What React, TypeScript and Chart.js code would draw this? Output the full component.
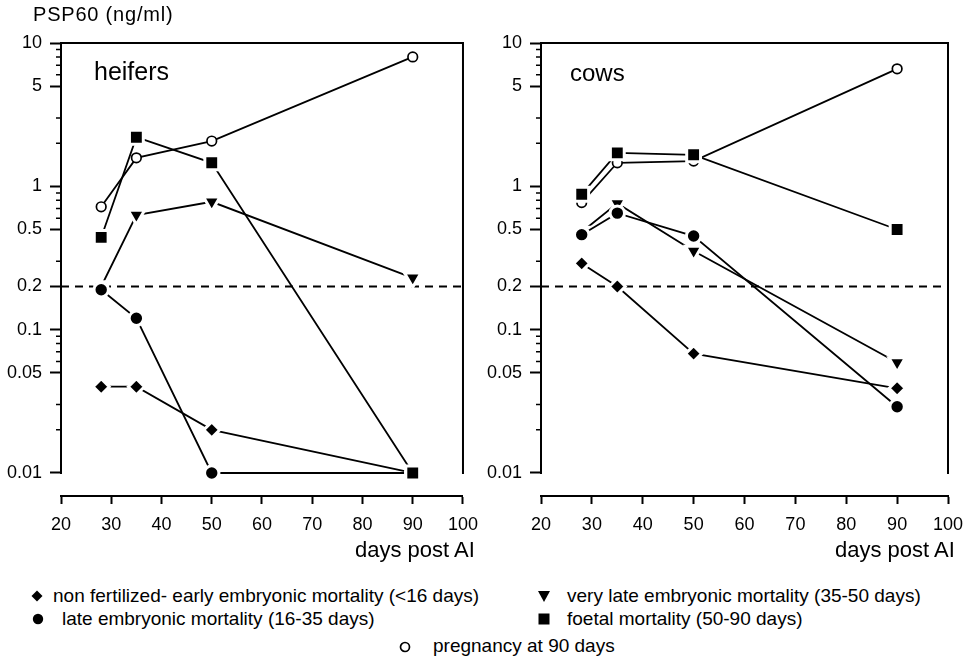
import React, { useEffect, useRef } from "react";
import { Chart, registerables } from "chart.js";

Chart.register(...registerables);

const FONT = "'Liberation Sans', Arial, Helvetica, sans-serif";

// ---------- data ----------
const days = [28, 35, 50, 90];

const heifersNonFertilized = [0.04, 0.04, 0.02, 0.01];
const heifersLateEmbryonic = [0.19, 0.12, 0.01, 0.01];
const heifersVeryLate = [0.2, 0.63, 0.78, 0.23];
const heifersFoetal = [0.44, 2.2, 1.46, 0.01];
const heifersPregnant = [0.72, 1.58, 2.07, 8.0];

const cowsNonFertilized = [0.29, 0.2, 0.068, 0.039];
const cowsLateEmbryonic = [0.46, 0.65, 0.45, 0.029];
const cowsVeryLate = [0.48, 0.76, 0.354, 0.059];
const cowsFoetal = [0.88, 1.71, 1.66, 0.5];
const cowsPregnant = [0.77, 1.46, 1.5, 6.6];

const thresholdLevel = 0.2;
const xTicks = [20, 30, 40, 50, 60, 70, 80, 90, 100];
const yLabelTicks = [10, 5, 1, 0.5, 0.2, 0.1, 0.05, 0.01];
const yMinorTicks = [9, 8, 7, 6, 3, 2, 0.9, 0.8, 0.7, 0.6, 0.3, 0.09, 0.08, 0.07, 0.06, 0.03, 0.02];

const legendLabels = {
  nonFertilized: "non fertilized- early embryonic mortality (<16 days)",
  lateEmbryonic: "late embryonic mortality (16-35 days)",
  veryLate: "very late embryonic mortality (35-50 days)",
  foetal: "foetal mortality (50-90 days)",
  pregnant: "pregnancy at 90 days",
};

// ---------- layout constants ----------
const X_MIN = 20;
const X_MAX = 100;
const Y_TOP = 10;
const Y_BOTTOM_VALUE = 0.01;
const DECADE_PX = 143.3;
const AXIS_GAP_PX = 23;
const Y_PLOT_MIN = Y_BOTTOM_VALUE / Math.pow(10, AXIS_GAP_PX / DECADE_PX);

type PanelData = {
  nonFert: number[];
  lateEmb: number[];
  veryLate: number[];
  foetal: number[];
  pregnant: number[];
};

const toPoints = (vals: number[]) => days.map((d, i) => ({ x: d, y: vals[i] }));

const framePlugin = {
  id: "frame",
  beforeDatasetsDraw(chart: any) {
    const { ctx, scales } = chart;
    const x = scales.x;
    const y = scales.y;
    const l = x.getPixelForValue(X_MIN);
    const r = x.getPixelForValue(X_MAX);
    const t = y.getPixelForValue(Y_TOP);
    const b = y.getPixelForValue(Y_BOTTOM_VALUE);
    ctx.save();
    ctx.strokeStyle = "#000";
    ctx.lineWidth = 2;
    ctx.beginPath();
    ctx.moveTo(l, b + 1);
    ctx.lineTo(l, t);
    ctx.lineTo(r, t);
    ctx.lineTo(r, b + 1);
    ctx.stroke();
    ctx.lineWidth = 1.5;
    ctx.beginPath();
    for (const v of yMinorTicks) {
      const py = y.getPixelForValue(v);
      ctx.moveTo(l - 5, py);
      ctx.lineTo(l, py);
    }
    ctx.stroke();
    ctx.restore();
  },
};

function makeConfig(p: PanelData, yWidth: number, padRight: number): any {
  const filled = (data: number[], style: string, radius: number, rotation = 0) => ({
    data: toPoints(data),
    borderColor: "#000",
    borderWidth: 1.8,
    pointStyle: style,
    pointRadius: radius,
    pointRotation: rotation,
    pointBackgroundColor: "#000",
    pointBorderColor: "#fff",
    pointBorderWidth: 3,
    tension: 0,
  });
  return {
    type: "line",
    data: {
      datasets: [
        filled(p.foetal, "rect", 9.8),
        filled(p.lateEmb, "circle", 7.2),
        filled(p.veryLate, "triangle", 9.5, 180),
        filled(p.nonFert, "rectRot", 8),
        {
          data: toPoints(p.pregnant),
          borderColor: "#000",
          borderWidth: 1.8,
          pointStyle: "circle",
          pointRadius: 4.8,
          pointBackgroundColor: "#fff",
          pointBorderColor: "#000",
          pointBorderWidth: 1.7,
          tension: 0,
        },
        {
          data: [
            { x: X_MIN, y: thresholdLevel },
            { x: X_MAX, y: thresholdLevel },
          ],
          borderColor: "#000",
          borderWidth: 2,
          borderDash: [8, 6],
          pointRadius: 0,
        },
      ],
    },
    options: {
      responsive: false,
      animation: false,
      devicePixelRatio: 1,
      layout: { padding: { top: 43, right: padRight, left: 0, bottom: 0 } },
      plugins: { legend: { display: false }, tooltip: { enabled: false } },
      scales: {
        x: {
          type: "linear",
          min: X_MIN,
          max: X_MAX,
          afterBuildTicks: (scale: any) => {
            scale.ticks = xTicks.map((v) => ({ value: v }));
          },
          afterFit: (scale: any) => {
            scale.height = 44;
          },
          ticks: {
            color: "#000",
            font: { family: FONT, size: 18 },
            padding: 10,
            maxRotation: 0,
            autoSkip: false,
          },
          grid: {
            drawOnChartArea: false,
            tickLength: 8,
            tickWidth: 2,
            tickColor: "#000",
          },
          border: { display: true, color: "#000", width: 2 },
        },
        y: {
          type: "logarithmic",
          min: Y_PLOT_MIN,
          max: Y_TOP,
          afterBuildTicks: (scale: any) => {
            scale.ticks = [...yLabelTicks, ...yMinorTicks]
              .sort((a, b) => b - a)
              .map((v) => ({ value: v }));
          },
          afterFit: (scale: any) => {
            scale.width = yWidth;
          },
          ticks: {
            color: "#000",
            font: { family: FONT, size: 18 },
            padding: 8,
            autoSkip: false,
            callback: (value: number) => (yLabelTicks.includes(value) ? String(value) : ""),
          },
          grid: {
            drawOnChartArea: false,
            tickLength: 11,
            tickWidth: 2,
            tickColor: (ctx: any) =>
              ctx.tick && yLabelTicks.includes(ctx.tick.value) ? "#000" : "rgba(0,0,0,0)",
          },
          border: { display: false },
        },
      },
    },
    plugins: [framePlugin],
  };
}

function Panel(props: { data: PanelData; left: number; width: number; yWidth: number; padRight: number }) {
  const ref = useRef<HTMLCanvasElement | null>(null);
  useEffect(() => {
    if (!ref.current) return;
    const chart = new Chart(ref.current, makeConfig(props.data, props.yWidth, props.padRight));
    return () => chart.destroy();
  }, []);
  return (
    <canvas
      ref={ref}
      width={props.width}
      height={540}
      style={{ position: "absolute", left: props.left, top: 0, width: props.width, height: 540, display: "block" }}
    />
  );
}

const textAt = (left: number, baseline: number, size: number, extra: any = {}): any => ({
  position: "absolute",
  left,
  top: baseline - 0.8465 * size,
  fontFamily: FONT,
  fontSize: size,
  lineHeight: 1,
  whiteSpace: "nowrap",
  color: "#000",
  ...extra,
});

function Sym(props: { kind: string; cx: number; cy: number }) {
  const s = 14;
  const h = s / 2;
  let shape: any = null;
  if (props.kind === "diamond") shape = <polygon points={`${h},${h - 5.5} ${h + 5.5},${h} ${h},${h + 5.5} ${h - 5.5},${h}`} fill="#000" />;
  if (props.kind === "circle") shape = <circle cx={h} cy={h} r={5.2} fill="#000" />;
  if (props.kind === "triangle") shape = <polygon points={`${h - 6},${h - 5} ${h + 6},${h - 5} ${h},${h + 6}`} fill="#000" />;
  if (props.kind === "square") shape = <rect x={h - 5.5} y={h - 5.5} width={11} height={11} fill="#000" />;
  if (props.kind === "open") shape = <circle cx={h} cy={h} r={4.5} fill="#fff" stroke="#000" strokeWidth={1.7} />;
  return (
    <svg
      width={s}
      height={s}
      style={{ position: "absolute", left: props.cx - h, top: props.cy - h, overflow: "visible" }}
    >
      {shape}
    </svg>
  );
}

export default function App() {
  const heifers: PanelData = {
    nonFert: heifersNonFertilized,
    lateEmb: heifersLateEmbryonic,
    veryLate: heifersVeryLate,
    foetal: heifersFoetal,
    pregnant: heifersPregnant,
  };
  const cows: PanelData = {
    nonFert: cowsNonFertilized,
    lateEmb: cowsLateEmbryonic,
    veryLate: cowsVeryLate,
    foetal: cowsFoetal,
    pregnant: cowsPregnant,
  };
  const lg = 19;
  return (
    <div style={{ position: "absolute", left: 0, top: 0, width: 976, height: 661, background: "#fff", overflow: "hidden" }}>
      <Panel data={heifers} left={0} width={488} yWidth={61} padRight={20} />
      <Panel data={cows} left={476} width={500} yWidth={65} padRight={28} />

      <div style={textAt(33, 21, 20, { letterSpacing: 0.8 })}>PSP60 (ng/ml)</div>
      <div style={textAt(94, 80, 25)}>heifers</div>
      <div style={textAt(570, 81, 24)}>cows</div>
      <div style={textAt(355, 558, 22)}>days post AI</div>
      <div style={textAt(835, 558, 22)}>days post AI</div>

      <Sym kind="diamond" cx={37} cy={596} />
      <div style={textAt(53, 602, lg)}>{legendLabels.nonFertilized}</div>
      <Sym kind="circle" cx={38} cy={619} />
      <div style={textAt(62, 625, lg)}>{legendLabels.lateEmbryonic}</div>
      <Sym kind="triangle" cx={544} cy={596} />
      <div style={textAt(567, 602, lg)}>{legendLabels.veryLate}</div>
      <Sym kind="square" cx={544} cy={619} />
      <div style={textAt(567, 625, lg)}>{legendLabels.foetal}</div>
      <Sym kind="open" cx={405} cy={647} />
      <div style={textAt(433, 652, lg)}>{legendLabels.pregnant}</div>
    </div>
  );
}
